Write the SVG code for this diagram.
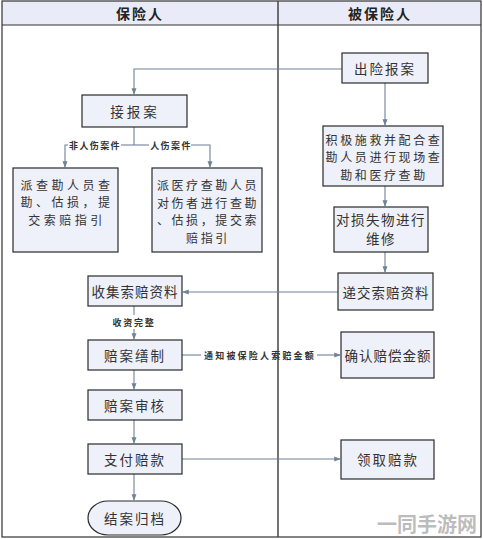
<svg xmlns="http://www.w3.org/2000/svg" width="483" height="539" viewBox="0 0 483 539">
<style>
.box{fill:#eef0fa;stroke:#2a2a2a;stroke-width:1.2}
.t{font-family:"Noto Sans CJK SC","Noto Sans",sans-serif;font-size:13.5px;fill:#333;text-anchor:middle;dominant-baseline:central}
.m{font-family:"Noto Sans CJK SC","Noto Sans",sans-serif;font-size:12px;fill:#333;text-anchor:middle;dominant-baseline:central}
.s{font-family:"Noto Sans CJK SC",sans-serif;font-size:9px;font-weight:bold;fill:#333;text-anchor:middle;dominant-baseline:central}
.h{font-family:"Noto Sans CJK SC",sans-serif;font-size:14px;font-weight:bold;fill:#222;text-anchor:middle;dominant-baseline:central;letter-spacing:2px}
.c{fill:none;stroke:#6f8298;stroke-width:1.1}
</style>
<defs>
<marker id="a" viewBox="0 0 8 8" refX="7" refY="4" markerWidth="6" markerHeight="6" orient="auto">
<path d="M0,1 L8,4 L0,7 z" fill="#6f8298"/>
</marker>
</defs>
<rect width="483" height="539" fill="#fff"/>
<g id="frame">
<rect x="2" y="1" width="479" height="24" fill="#e9ecf8"/>
<rect x="2" y="1" width="479" height="536" fill="none" stroke="#333" stroke-width="1.2"/>
<line x1="2" y1="25" x2="481" y2="25" stroke="#333" stroke-width="1"/>
<line x1="278" y1="1" x2="278" y2="537" stroke="#444" stroke-width="1.5"/>
<text class="h" x="140" y="13">保险人</text>
<text class="h" x="380" y="13">被保险人</text>
</g>
<g id="connectors">
<path class="c" d="M342,69 H134 V94" marker-end="url(#a)"/>
<path class="c" d="M385,83 V125" marker-end="url(#a)"/>
<path class="c" d="M134,127 V145"/>
<path class="c" d="M68,145 H65 V167" marker-end="url(#a)"/>
<path class="c" d="M121,145 H149"/>
<path class="c" d="M191,145 H210 V167" marker-end="url(#a)"/>
<path class="c" d="M385,186 V206" marker-end="url(#a)"/>
<path class="c" d="M385,252 V272" marker-end="url(#a)"/>
<path class="c" d="M338,292 H183" marker-end="url(#a)"/>
<path class="c" d="M134,306 V315"/>
<path class="c" d="M134,329 V339" marker-end="url(#a)"/>
<path class="c" d="M182,355 H201"/>
<path class="c" d="M317,355 H340" marker-end="url(#a)"/>
<path class="c" d="M134,370 V389" marker-end="url(#a)"/>
<path class="c" d="M134,420 V443" marker-end="url(#a)"/>
<path class="c" d="M182,459 H340" marker-end="url(#a)"/>
<path class="c" d="M134,474 V500" marker-end="url(#a)"/>
<text class="s" x="95" y="145" style="letter-spacing:1.4px">非人伤案件</text>
<text class="s" x="171" y="145" style="letter-spacing:1.4px">人伤案件</text>
<text class="s" x="134" y="322" style="letter-spacing:1.8px">收资完整</text>
<text class="s" x="260" y="355" style="letter-spacing:2.2px">通知被保险人索赔金额</text>
</g>
<g id="n1"><rect class="box" x="342" y="53" width="86" height="30"/><text class="t" x="385" y="68" style="letter-spacing:2px">出险报案</text></g>
<g id="n2"><rect class="box" x="82" y="95" width="105" height="32"/><text class="t" x="135" y="111" style="letter-spacing:3px">接报案</text></g>
<g id="n3"><rect class="box" x="13" y="168" width="105" height="84"/>
<text class="m" x="67" y="184" style="letter-spacing:3.5px">派查勘人员查</text>
<text class="m" x="67" y="201.5" style="letter-spacing:3.5px">勘、估损，提</text>
<text class="m" x="67" y="219" style="letter-spacing:3.5px">交索赔指引</text></g>
<g id="n4"><rect class="box" x="152" y="168" width="110" height="84"/>
<text class="m" x="208" y="184.5" style="letter-spacing:2.6px">派医疗查勘人员</text>
<text class="m" x="208" y="202" style="letter-spacing:2.6px">对伤者进行查勘</text>
<text class="m" x="208" y="219.5" style="letter-spacing:2.6px">、估损，提交索</text>
<text class="m" x="208" y="237" style="letter-spacing:2.6px">赔指引</text></g>
<g id="n5"><rect class="box" x="323" y="126" width="120" height="60"/>
<text class="m" x="384" y="139" style="letter-spacing:2.6px">积极施救并配合查</text>
<text class="m" x="384" y="156.5" style="letter-spacing:2.6px">勘人员进行现场查</text>
<text class="m" x="384" y="174" style="letter-spacing:2.6px">勘和医疗查勘</text></g>
<g id="n6"><rect class="box" x="334" y="207" width="94" height="45"/>
<text class="t" x="381" y="219" style="letter-spacing:1.5px">对损失物进行</text>
<text class="t" x="381" y="238" style="letter-spacing:1.5px">维修</text></g>
<g id="n7"><rect class="box" x="338" y="273" width="95" height="37"/><text class="t" x="386" y="292" style="letter-spacing:1px">递交索赔资料</text></g>
<g id="n8"><rect class="box" x="88" y="276" width="94" height="30"/><text class="t" x="135" y="291" style="letter-spacing:1px">收集索赔资料</text></g>
<g id="n9"><rect class="box" x="88" y="340" width="94" height="30"/><text class="t" x="135" y="355" style="letter-spacing:2px">赔案缮制</text></g>
<g id="n10"><rect class="box" x="341" y="332" width="93" height="46"/><text class="t" x="388" y="355" style="letter-spacing:1px">确认赔偿金额</text></g>
<g id="n11"><rect class="box" x="88" y="390" width="94" height="30"/><text class="t" x="135" y="405" style="letter-spacing:2px">赔案审核</text></g>
<g id="n12"><rect class="box" x="88" y="444" width="94" height="30"/><text class="t" x="135" y="459" style="letter-spacing:2px">支付赔款</text></g>
<g id="n13"><rect class="box" x="341" y="440" width="93" height="39"/><text class="t" x="388" y="459" style="letter-spacing:2px">领取赔款</text></g>
<g id="n14"><rect class="box" x="88" y="501" width="93" height="34" rx="20" ry="17"/><text class="t" x="135" y="518" style="letter-spacing:2px">结案归档</text></g>
<text x="427" y="523" font-family="Noto Sans CJK SC,sans-serif" font-size="20" font-weight="bold" fill="#b0b0b0" fill-opacity="0.85" text-anchor="middle" dominant-baseline="central">一同手游网</text>
</svg>
